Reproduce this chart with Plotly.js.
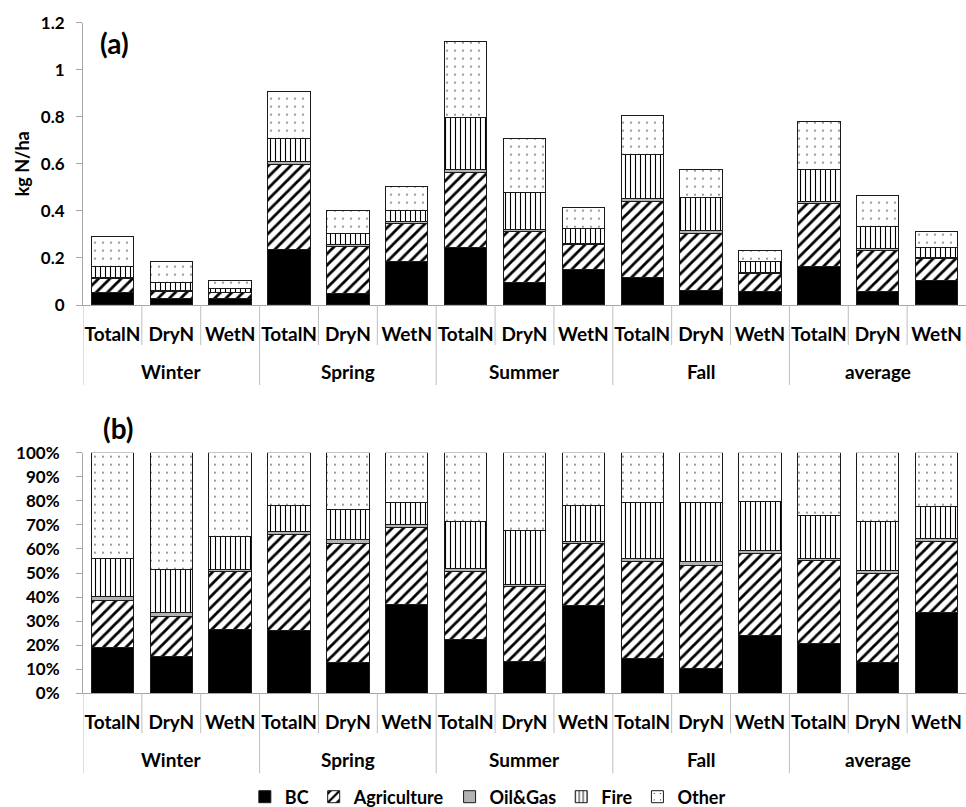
<!DOCTYPE html>
<html><head><meta charset="utf-8">
<script src="https://cdn.plot.ly/plotly-3.0.1.min.js"></script>
<style>html,body{margin:0;padding:0;background:#fff}#chart{width:966px;height:807px}</style>
</head><body><div id="chart"></div>
<script>
// categories
const seasonNames = ['Winter','Spring','Summer','Fall','average'];
const seasons = ['Winter','Winter','Winter','Spring','Spring','Spring','Summer','Summer','Summer','Fall','Fall','Fall','average','average','average'];
const types   = ['TotalN','DryN','WetN','TotalN','DryN','WetN','TotalN','DryN','WetN','TotalN','DryN','WetN','TotalN','DryN','WetN'];
const sources = ['BC','Agriculture','Oil&Gas','Fire','Other'];

// (a) kg N/ha
const bcA    = [0.055,0.028,0.028, 0.238,0.050,0.186, 0.245,0.095,0.152, 0.116,0.060,0.056, 0.163,0.059,0.105];
const agriA  = [0.056,0.031,0.025, 0.361,0.199,0.162, 0.318,0.218,0.106, 0.326,0.246,0.079, 0.270,0.173,0.093];
const oilA   = [0.005,0.003,0.001, 0.010,0.007,0.006, 0.015,0.009,0.004, 0.010,0.009,0.003, 0.005,0.007,0.004];
const fireA  = [0.046,0.033,0.014, 0.099,0.050,0.046, 0.220,0.158,0.062, 0.189,0.143,0.048, 0.140,0.095,0.041];
const otherA = [0.128,0.090,0.037, 0.200,0.094,0.104, 0.322,0.229,0.090, 0.166,0.119,0.047, 0.202,0.133,0.070];

// (b) percent share
const bcB    = [19.1,15.1,26.6, 26.3,12.6,37.0, 22.2,13.4,36.7, 14.4,10.5,24.1, 20.8,12.6,33.5];
const agriB  = [19.3,16.8,24.0, 39.8,49.7,32.1, 28.4,30.8,25.6, 40.4,42.7,34.1, 34.6,37.0,29.7];
const oilB   = [ 1.8, 1.8, 0.8,  1.1, 1.7, 1.1,  1.3, 1.2, 0.9,  1.2, 1.5, 1.2,  0.6, 1.5, 1.2];
const fireB  = [15.9,17.8,13.6, 10.9,12.5, 9.2, 19.6,22.3,14.9, 23.4,24.7,20.4, 18.0,20.4,13.2];
const otherB = [43.9,48.5,35.0, 21.9,23.5,20.6, 28.5,32.3,21.9, 20.6,20.6,20.2, 26.0,28.5,22.4];

const W = 966, H = 807, MB = 40, PH = H - MB;
const idx = types.map((_, i) => i);
const styles = {
  'BC':          {color:'#000000'},
  'Agriculture': {color:'#ffffff', pattern:{shape:'/', fgcolor:'#000', bgcolor:'#fff', size:8, solidity:0.35}},
  'Oil&Gas':     {color:'#b3b3b3'},
  'Fire':        {color:'#ffffff', pattern:{shape:'|', fgcolor:'#000', bgcolor:'#fff', size:5, solidity:0.22}},
  'Other':       {color:'#ffffff', pattern:{shape:'.', fgcolor:'#000', bgcolor:'#fff', size:8, solidity:0.025}}
};
const dataA = [bcA, agriA, oilA, fireA, otherA];
const dataB = [bcB, agriB, oilB, fireB, otherB];
const traces = [];
sources.forEach((s,i)=>{
  const m = Object.assign({line:{color:'#1a1a1a', width:1}}, styles[s]);
  traces.push({type:'bar', name:s, x:idx, y:dataA[i], xaxis:'x', yaxis:'y', marker:m, showlegend:false, legendgroup:s, customdata:seasons});
  traces.push({type:'bar', name:s, x:idx, y:dataB[i], xaxis:'x2', yaxis:'y2', marker:m, showlegend:true, legendgroup:s, customdata:seasons});
});

const F = 'Lato, "Open Sans", sans-serif';
const xcommon = {range:[-0.5, types.length-0.5], tickmode:'array', tickvals:idx, ticktext:types, tickangle:0,
  showline:true, linecolor:'#a6a6a6', linewidth:1, ticks:'', ticklabelstandoff:12,
  tickfont:{family:F, size:19, color:'#000', weight:'bold'}, showgrid:false, zeroline:false, fixedrange:true};

// axis baselines in pixels (from top)
const axA = 305, topA = 22.7, axB = 693.3, topB = 452.7;
const py = p => 1 - p / PH;

const shapes = [], annotations = [];
[['x', axA], ['x2', axB]].forEach(([xr, ax]) => {
  for (let b = 0; b < types.length; b++) {
    const isGroup = b === 0 || seasons[b] !== seasons[b-1];
    shapes.push({type:'line', xref:xr, yref:'paper', x0:b-0.5, x1:b-0.5, y0:py(ax), y1:py(ax + (isGroup ? 80 : 40)),
      line:{color:'#bfbfbf', width:1}});
  }
  seasonNames.forEach(sn => {
    const ids = idx.filter(i => seasons[i] === sn);
    const mid = (ids[0] + ids[ids.length-1]) / 2;
    annotations.push({text:sn, xref:xr, yref:'paper', x:mid, y:py(ax + 66), xanchor:'center', yanchor:'middle',
      showarrow:false, font:{family:F, size:19, weight:'bold', color:'#000'}});
  });
});
annotations.push(
  {text:'(a)', xref:'paper', yref:'paper', x:98/W, y:py(43), xanchor:'left', yanchor:'middle', showarrow:false,
   font:{family:F, size:28, weight:'bold', color:'#000'}},
  {text:'(b)', xref:'paper', yref:'paper', x:101/W, y:py(428), xanchor:'left', yanchor:'middle', showarrow:false,
   font:{family:F, size:28, weight:'bold', color:'#000'}}
);

const layout = {
  width:W, height:H, margin:{l:0,r:0,t:0,b:MB},
  paper_bgcolor:'#fff', plot_bgcolor:'#fff',
  barmode:'stack', bargap:0.28,
  font:{family:F, color:'#000'},
  xaxis: Object.assign({domain:[83/W,1], anchor:'y'}, xcommon),
  xaxis2: Object.assign({domain:[83/W,1], anchor:'y2'}, xcommon),
  yaxis: {domain:[py(axA), py(topA)], range:[0,1.2], dtick:0.2, showline:true, linecolor:'#a6a6a6',
    ticks:'outside', ticklen:6, tickcolor:'#a6a6a6', showgrid:false, zeroline:false, ticklabelstandoff:8,
    tickfont:{family:F, size:17, color:'#000', weight:'bold'},
    title:{text:'kg N/ha', font:{family:F, size:18, weight:'bold', color:'#000'}, standoff:6}},
  yaxis2: {domain:[py(axB), py(topB)], range:[0,100], dtick:10, ticksuffix:'%', showline:true, linecolor:'#a6a6a6',
    ticks:'outside', ticklen:6, tickcolor:'#a6a6a6', showgrid:false, zeroline:false, ticklabelstandoff:13,
    tickfont:{family:F, size:17, color:'#000', weight:'bold'}},
  legend:{orientation:'h', x:0.505, xanchor:'center', xref:'container', yref:'container', y:1-797/H, yanchor:'middle', itemwidth:30,
    font:{family:F, size:18, weight:'bold', color:'#000'}, traceorder:'normal'},
  shapes, annotations
};
Plotly.newPlot('chart', traces, layout, {displayModeBar:false, staticPlot:true});
</script></body></html>
